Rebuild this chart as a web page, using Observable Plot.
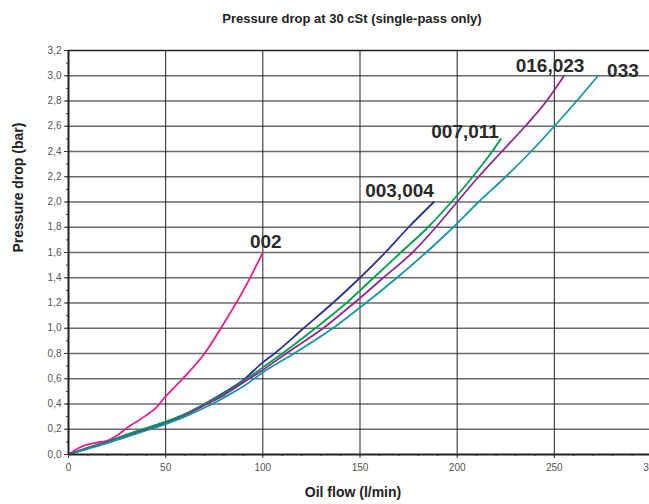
<!DOCTYPE html>
<html>
<head>
<meta charset="utf-8">
<script src="https://cdn.jsdelivr.net/npm/d3@7"></script>
<script src="https://cdn.jsdelivr.net/npm/@observablehq/plot@0.6"></script>
<style>
  html, body { margin: 0; padding: 0; background: #fff; overflow: hidden; }
  #wrap { position: relative; width: 649px; height: 504px; }
  #title { position: absolute; left: 352px; top: 0; height: 38px; transform: translateX(-50%);
           font: bold 13px "Liberation Sans", Arial, sans-serif; line-height: 38px; color: #222; white-space: nowrap; }
  #chart { position: absolute; left: 0; top: 38px; }
</style>
</head>
<body>
<div id="wrap">
  <div id="title">Pressure drop at 30 cSt (single-pass only)</div>
  <div id="chart"></div>
</div>
<script>
// ---- data ----
const seriesNames = ["002", "003,004", "007,011", "016,023", "033"];

const flow002 = [0, 5, 10, 15, 20, 25, 30, 40, 45, 50, 60, 70, 80, 90, 100];
const drop002 = [0, 0.05, 0.08, 0.095, 0.11, 0.15, 0.21, 0.31, 0.37, 0.46, 0.62, 0.8, 1.04, 1.3, 1.6];

const flow003 = [0, 10, 20, 30, 40, 50, 60, 70, 80, 90, 100, 106, 121, 136, 150, 163, 175, 188];
const drop003 = [0, 0.05, 0.1, 0.15, 0.2, 0.25, 0.32, 0.4, 0.49, 0.59, 0.73, 0.8, 1.0, 1.2, 1.4, 1.6, 1.8, 2.0];

const flow007 = [0, 10, 20, 30, 40, 50, 60, 70, 80, 90, 100, 110, 127, 143, 157, 171, 185, 197, 208, 218, 222.5];
const drop007 = [0, 0.055, 0.1, 0.16, 0.21, 0.26, 0.32, 0.4, 0.48, 0.58, 0.69, 0.8, 1.0, 1.2, 1.4, 1.6, 1.8, 2.0, 2.2, 2.4, 2.5];

const flow016 = [0, 10, 20, 30, 40, 50, 60, 70, 80, 90, 100, 112, 131, 147, 162, 177, 189, 200, 211, 223, 235, 246, 255];
const drop016 = [0, 0.05, 0.095, 0.145, 0.195, 0.245, 0.31, 0.39, 0.47, 0.57, 0.67, 0.8, 1.0, 1.2, 1.4, 1.6, 1.8, 2.0, 2.2, 2.4, 2.6, 2.8, 3.0];

const flow033 = [0, 10, 20, 30, 40, 50, 60, 70, 80, 90, 100, 116, 136, 153, 169, 184, 198, 211, 225, 238, 250, 261.5, 272.5];
const drop033 = [0, 0.045, 0.09, 0.14, 0.19, 0.24, 0.3, 0.37, 0.45, 0.54, 0.65, 0.8, 1.0, 1.2, 1.4, 1.6, 1.8, 2.0, 2.2, 2.4, 2.6, 2.8, 3.0];

const xMajorTicks = [0, 50, 100, 150, 200, 250, 300];
const xMinorTicks = d3.range(0, 301, 10);
const yMajorTicks = [0, 0.2, 0.4, 0.6, 0.8, 1.0, 1.2, 1.4, 1.6, 1.8, 2.0, 2.2, 2.4, 2.6, 2.8, 3.0, 3.2];
const yMinorTicks = d3.range(0, 3.21, 0.1);

const xLabel = "Oil flow (l/min)";
const yLabel = "Pressure drop (bar)";

// ---- styles ----
const colors = ["#ec1c8c", "#2e3192", "#00a14b", "#93278f", "#1598a6"];
const labelStyle = [
  {dx: 3, dy: -5, anchor: "middle"},
  {dx: 0, dy: -5, anchor: "end"},
  {dx: -2, dy: -1, anchor: "end"},
  {dx: -14, dy: -4, anchor: "middle"},
  {dx: 9, dy: 1, anchor: "start"}
];

const flows = [flow002, flow003, flow007, flow016, flow033];
const drops = [drop002, drop003, drop007, drop016, drop033];
const series = seriesNames.map((name, i) => ({
  name, color: colors[i], style: labelStyle[i],
  points: flows[i].map((f, j) => ({flow: f, drop: drops[i][j]}))
}));

const fmt = d => d.toFixed(1).replace(".", ",");
const font = "'Liberation Sans', Arial, sans-serif";

const chart = Plot.plot({
  width: 649,
  height: 466,
  marginLeft: 68,
  marginRight: -2,
  marginTop: 12,
  marginBottom: 50,
  style: {fontFamily: font, fontSize: "10px", color: "#333", background: "white", overflow: "visible"},
  x: {domain: [0, 300]},
  y: {domain: [0, 3.2]},
  marks: [
    Plot.gridY(yMajorTicks.filter(v => v > 0 && v < 3.2), {stroke: "#6a6a6a", strokeOpacity: 1, strokeWidth: 1.5}),
    Plot.gridX(xMajorTicks.filter(v => v > 0), {stroke: "#222", strokeOpacity: 1, strokeWidth: 1}),
    ...series.map(s => Plot.line(s.points, {x: "flow", y: "drop", stroke: s.color, strokeWidth: 1.8, curve: "monotone-x"})),
    Plot.ruleY([3.2], {stroke: "#222", strokeWidth: 1.5}),
    Plot.ruleY([0], {stroke: "#222", strokeWidth: 2}),
    Plot.ruleX([0], {stroke: "#222", strokeWidth: 2}),
    Plot.axisY(yMajorTicks, {tickSize: 4, tickPadding: 3, tickFormat: fmt, label: null, fill: "#555", stroke: "#333", fontSize: 10}),
    Plot.axisY(yMinorTicks, {tickSize: 2, text: null, label: null, stroke: "#333"}),
    Plot.axisX(xMajorTicks, {tickSize: 4, tickPadding: 5, label: null, fill: "#555", stroke: "#333", fontSize: 10}),
    Plot.axisX(xMinorTicks, {tickSize: 2, text: null, label: null, stroke: "#333"}),
    ...series.map(s => Plot.text([s.points[s.points.length - 1]], {
      x: "flow", y: "drop", text: () => s.name, textAnchor: s.style.anchor, lineAnchor: "bottom",
      dx: s.style.dx, dy: s.style.dy, fontSize: 19, fontWeight: "bold", fill: "#2a2a2a"
    })),
    Plot.text([yLabel], {frameAnchor: "left", rotate: -90, dx: -50, fontSize: 14, fontWeight: "bold", fill: "#222"}),
    Plot.text([xLabel], {frameAnchor: "bottom", dx: -7, dy: 42, fontSize: 14, fontWeight: "bold", fill: "#222"})
  ]
});
document.getElementById("chart").appendChild(chart);
</script>
</body>
</html>
